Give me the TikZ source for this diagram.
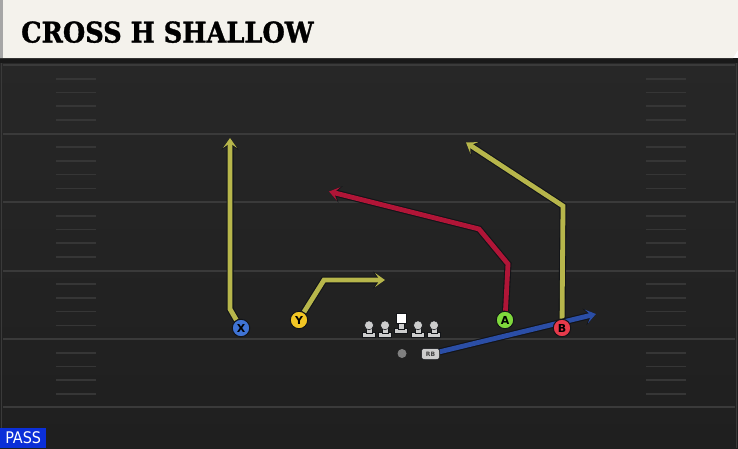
\documentclass[tikz,border=0pt]{standalone}
\usepackage{fontspec}
\setmainfont{DejaVu Sans}
\newfontfamily\titlefont{DejaVu Serif Condensed}[FakeBold=1.2]
\newfontfamily\condfont{DejaVu Sans Condensed}
\usetikzlibrary{arrows.meta,backgrounds}

\definecolor{fieldtop}{HTML}{272727}
\definecolor{fieldbot}{HTML}{1F1F1F}
\definecolor{headcol}{HTML}{F4F2EC}
\definecolor{yardcol}{HTML}{3A3A3A}
\definecolor{hashcol}{HTML}{363636}
\definecolor{edgecol}{HTML}{121418}
\definecolor{olivecol}{HTML}{B7B64B}
\definecolor{redcol}{HTML}{B01537}
\definecolor{bluecol}{HTML}{2B4EA6}
\definecolor{xcol}{HTML}{3F73D4}
\definecolor{ycol}{HTML}{F2C624}
\definecolor{acol}{HTML}{7FD83C}
\definecolor{bcol}{HTML}{E63A4B}
\definecolor{lmcol}{HTML}{CDCDCD}
\definecolor{passcol}{HTML}{0B2FD8}

\pgfdeclarelayer{front}
\pgfsetlayers{main,front}

\tikzset{
  route/.style={draw=#1, line width=4.8pt,
    -{Stealth[length=10pt,width=14pt,inset=5pt,fill=#1]},
    preaction={draw=edgecol, line width=7pt,
      -{Stealth[length=12pt,width=17pt,inset=6pt,fill=edgecol]}}},
  player/.style={circle, fill=#1, draw=edgecol, line width=1pt,
    minimum size=17.5pt, inner sep=0pt,
    font=\bfseries\fontsize{11}{11}\selectfont},
  yardline/.style={draw=yardcol, line width=2pt},
  hashmark/.style={draw=hashcol, line width=1.6pt},
  lineman/.style={fill=lmcol, draw=edgecol, line width=0.5pt},
}

\begin{document}
\begin{tikzpicture}[x=1pt,y=-1pt]
  \useasboundingbox (0,0) rectangle (738,448);
  %draw field
  \shade[top color=fieldtop, bottom color=fieldbot] (0,58) rectangle (738,448);
  \fill[black!90] (0,58) rectangle (738,63);
  \draw[yardcol, line width=1.5pt] (1.5,63) -- (1.5,448);
  \draw[yardcol, line width=1.5pt] (736.5,63) -- (736.5,448);
  \foreach \yy in {65,133.5,202,270.5,339,407}
    \draw[yardline] (3,\yy) -- (735,\yy);
  \foreach \yy in {65,133.5,202,270.5,339}
    \foreach \k in {1,...,4} {
      \draw[hashmark] (56,\yy+13.7*\k) -- (96,\yy+13.7*\k);
      \draw[hashmark] (646,\yy+13.7*\k) -- (686,\yy+13.7*\k);
    }
  %draw header
  \fill[headcol] (0,0) -- (738,0) -- (738,50) -- (733,58) -- (0,58) -- cycle;
  \fill[black!35] (0,0) rectangle (3,58);
  \node[anchor=base west, inner sep=0pt, text=black]
    (title) at (21,42.5) {\titlefont\bfseries\fontsize{28.5}{28.5}\selectfont CROSS H SHALLOW};

  %draw players
  \begin{pgfonlayer}{front}
  \node[player=xcol] (X) at (241,328) {X};
  \node[player=ycol] (Y) at (299,320) {Y};
  \node[player=acol] (A) at (505,320) {A};
  \node[player=bcol] (B) at (562,328) {B};
  \node[fill=lmcol, draw=edgecol, line width=0.5pt, rounded corners=2.5pt,
    minimum width=18pt, minimum height=11pt, inner sep=0pt,
    font=\bfseries\fontsize{6}{6}\selectfont, text=black!75]
    (RB) at (430.5,354) {RB};
  \node[circle, fill=black!50, minimum size=9pt, inner sep=0pt] (QB) at (402,353.5) {};
  %offensive line
  \foreach \lx in {369,385,418,434} {
    \fill[lineman] (\lx-6.5,332) rectangle (\lx+6.5,337.5);
    \fill[lineman] (\lx-2.8,325) rectangle (\lx+2.8,333);
    \fill[lineman] (\lx,325.3) circle (4.5);
  }
  \fill[lineman] (394.5,328.5) rectangle (407.5,333.5);
  \fill[lineman] (398.6,322) rectangle (404.2,329.5);
  \fill[white, draw=edgecol, line width=0.5pt] (396.5,313) rectangle (406.3,323.3);
  \end{pgfonlayer}

  %draw routes
  \coordinate (xcut) at (230,309);
  \coordinate (xend) at (230,138);
  \draw[route=olivecol] (X) -- (xcut) -- (xend);
  \coordinate (ycut) at (324,280);
  \coordinate (yend) at (385,280);
  \draw[route=olivecol] (Y) -- (ycut) -- (yend);
  \coordinate (acut1) at (508,264);
  \coordinate (acut2) at (479,229);
  \coordinate (aend) at (329,191.5);
  \draw[route=redcol] (A) -- (acut1) -- (acut2) -- (aend);
  \coordinate (bcut) at (563,206);
  \coordinate (bend) at (466,142.5);
  \draw[route=olivecol] (B) -- (bcut) -- (bend);
  \coordinate (rbend) at (596,314);
  \draw[route=bluecol] (RB) -- (rbend);

  %play type
  \node[fill=passcol, text=white, anchor=south west, inner sep=0pt,
    minimum width=46pt, minimum height=20pt,
    font=\condfont\fontsize{16}{16}\selectfont]
    (pass) at (0,448) {PASS};
\end{tikzpicture}
\end{document}
